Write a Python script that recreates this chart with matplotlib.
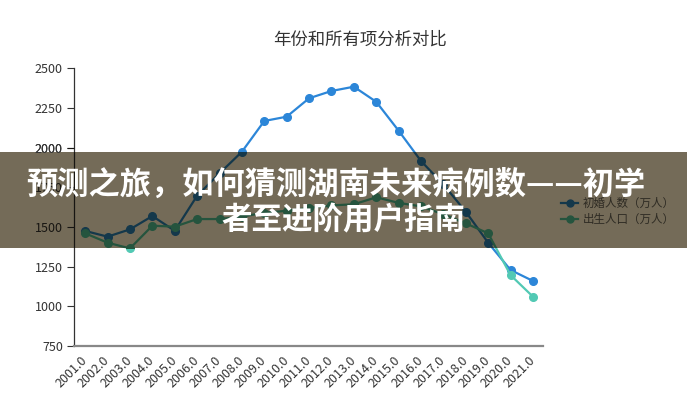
import matplotlib
matplotlib.use("Agg")
import matplotlib.pyplot as plt
from matplotlib.colors import to_rgb
from matplotlib.lines import Line2D
from matplotlib.patches import Rectangle
from matplotlib.transforms import Bbox, TransformedBbox

plt.rcParams['font.family'] = ['Noto Sans CJK SC', 'DejaVu Sans']

# ---- data ----
years = [2001, 2002, 2003, 2004, 2005, 2006, 2007, 2008, 2009, 2010, 2011,
         2012, 2013, 2014, 2015, 2016, 2017, 2018, 2019, 2020, 2021]
year_labels = [f"{y:.1f}" for y in years]
marriages = [1475, 1439, 1485, 1569, 1476, 1697, 1838, 1974, 2168, 2195, 2311,
             2357, 2384, 2289, 2107, 1916, 1768, 1596, 1401, 1229, 1160]
births = [1460, 1401, 1365, 1508, 1502, 1550, 1550, 1565, 1590, 1602, 1620,
          1636, 1643, 1687, 1652, 1630, 1580, 1523, 1460, 1197, 1061]
series_names = ["初婚人数（万人）", "出生人口（万人）"]
yticks = [750, 1000, 1250, 1500, 1750, 2000, 2250, 2500]
title = "年份和所有项分析对比"
banner_lines = ["预测之旅，如何猜测湖南未来病例数——初学", "者至进阶用户指南"]

# ---- style ----
W, H = 687, 400
blue = "#2c86d8"
green = "#52c9b4"
banner_rgb = to_rgb("#746b58")


def mult(c):
    r = to_rgb(c)
    return tuple(a * b for a, b in zip(r, banner_rgb))


fig = plt.figure(figsize=(W / 100, H / 100), dpi=100)
pos = [74 / W, 1 - 346 / H, (543 - 74) / W, (346 - 68.3) / H]
x = list(range(len(years)))

ax = fig.add_axes(pos, zorder=0)
ax.plot(x, marriages, color=blue, lw=1.6, marker='o', ms=5.5, zorder=3)
ax.plot(x, births, color=green, lw=1.6, marker='o', ms=5.5, zorder=3)
ax.set_xlim(-0.5, 20.45)
ax.set_ylim(750, 2500)
ax.set_yticks(yticks)
ax.set_yticklabels([str(v) for v in yticks], fontsize=9, color="#333333")
ax.set_xticks(x)
ax.set_xticklabels(year_labels, rotation=45, ha='right', va='center',
                   rotation_mode='anchor', fontsize=9, color="#333333")
ax.tick_params(axis='x', length=0, pad=9)
ax.tick_params(axis='y', length=5, width=0.8, color="#333333", pad=3)
for s in ['top', 'right']:
    ax.spines[s].set_visible(False)
ax.spines['left'].set_color("#333333")
ax.spines['left'].set_linewidth(0.9)
ax.spines['bottom'].set_color("#888888")
ax.spines['bottom'].set_linewidth(1.6)
ax.set_facecolor("white")

fig.text(360 / W, 1 - 40 / H, title, ha='center', va='center', fontsize=12.5,
         color="#333333")

# ---- banner ----
y0 = 1 - 248 / H
y1 = 1 - 152 / H
fig.patches.append(Rectangle((0, y0), 1, y1 - y0, transform=fig.transFigure,
                             facecolor=banner_rgb, edgecolor='none', zorder=1))
clipbb = TransformedBbox(Bbox.from_extents(0, y0, 1, y1), fig.transFigure)

ax2 = fig.add_axes(pos, zorder=2)
ax2.patch.set_visible(False)
l1, = ax2.plot(x, marriages, color=mult(blue), lw=1.6, marker='o', ms=5.5)
l2, = ax2.plot(x, births, color=mult(green), lw=1.6, marker='o', ms=5.5)
vl = ax2.axvline(-0.5, color=mult("#333333"), lw=0.9)
for art in (l1, l2, vl):
    art.set_clip_box(clipbb)
ax2.set_xlim(ax.get_xlim())
ax2.set_ylim(ax.get_ylim())
ax2.set_xticks([])
ax2.set_yticks([1500, 1750, 2000])
ax2.set_yticklabels(["1500", "1750", "2000"], fontsize=9,
                    color=mult("#333333"))
ax2.get_yticklabels()[2].set_color("#333333")
ax2.tick_params(axis='y', length=5, width=0.8, color=mult("#333333"), pad=3)
for s in ax2.spines.values():
    s.set_visible(False)

handles = [Line2D([], [], color=mult(blue), lw=1.6, marker='o', ms=5),
           Line2D([], [], color=mult(green), lw=1.6, marker='o', ms=5)]
leg = ax2.legend(handles, series_names, loc='center left',
                 bbox_to_anchor=(561 / W, 1 - 211.5 / H),
                 bbox_transform=fig.transFigure, frameon=False, fontsize=8.3,
                 handlelength=1.5, handletextpad=0.4, labelspacing=0.3,
                 borderpad=0, borderaxespad=0)
for t in leg.get_texts():
    t.set_color(mult("#666666"))

fig.text(336 / W, 1 - 185 / H, banner_lines[0], ha='center', va='center',
         fontsize=22.5, weight='bold', color='white', zorder=3)
fig.text(343 / W, 1 - 220 / H, banner_lines[1], ha='center', va='center',
         fontsize=22, weight='bold', color='white', zorder=3)

fig.savefig("out.png", dpi=100)
